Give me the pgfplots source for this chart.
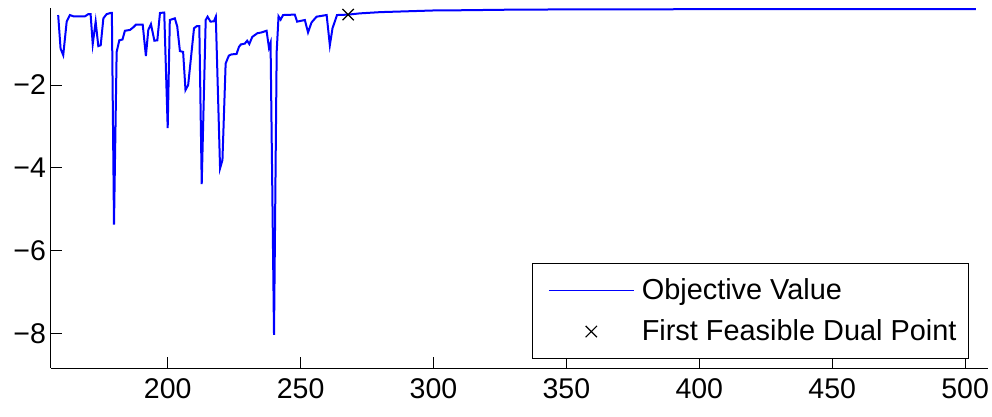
\documentclass[border=0pt]{standalone}
\usepackage{fontspec}
\setmainfont{Liberation Sans}
\usepackage{pgfplots}
\pgfplotsset{compat=1.18}
\begin{document}
\begin{tikzpicture}
\path[use as bounding box] (-25.5bp,-24.5bp) rectangle (470.5bp,184bp);
\begin{axis}[
  at={(0,0)}, anchor=south west,
  scale only axis, width=468.5bp, height=180bp,
  xmin=156.1, xmax=508.6, ymin=-8.83, ymax=-0.14,
  axis lines=left, axis line style={-, line width=0.5bp, black},
  tick align=inside, major tick length=5.5bp,
  tick style={line width=0.5bp, black},
  xtick={200,250,300,350,400,450,500},
  ytick={-8,-6,-4,-2},
  yticklabels={−8,−6,−4,−2},
  /pgf/number format/assume math mode=true,
  /pgf/number format/1000 sep={},
  ticklabel style={font=\fontsize{14.3}{17}\selectfont},
  xticklabel style={yshift=-2bp},
  yticklabel style={xshift=1bp},
  legend style={at={(1,0)}, anchor=south east, xshift=-9.5bp, yshift=4.5bp,
    draw=black, line width=0.5bp, font=\fontsize{14.5}{17}\selectfont,
    inner xsep=4bp, inner ysep=5.5bp, row sep=4.5bp,
    cells={anchor=west}},
  legend cell align=left,
  clip=true,
]
\addplot[blue, line width=1bp, mark=none,
  legend image code/.code={\path (0bp,0bp) (47.5bp,0bp); \draw[blue, line width=0.6bp] (3.5bp,0bp) -- (46bp,0bp);}]
coordinates {
(158.8,-0.31) (159.7,-1.12) (160.7,-1.28) (162.0,-0.47) (163.2,-0.31) (164.5,-0.34)
(168.9,-0.34) (170.1,-0.29) (171.0,-0.29) (171.8,-1.01) (172.9,-0.47) (173.9,-1.06)
(174.8,-1.04) (175.8,-0.39) (177.0,-0.29) (178.5,-0.26) (179.0,-0.26) (179.8,-5.37)
(180.8,-1.20) (181.8,-0.92) (183.0,-0.90) (183.9,-0.69) (185.8,-0.67) (187.0,-0.61)
(188.1,-0.54) (190.6,-0.54) (191.8,-1.30) (192.7,-0.67) (193.7,-0.53) (195.0,-0.93)
(196.1,-0.92) (197.1,-0.26) (198.7,-0.25) (200.0,-3.04) (200.8,-0.43) (202.7,-0.39)
(203.6,-0.59) (204.6,-1.18) (205.8,-1.20) (206.7,-2.12) (207.7,-2.00) (209.9,-0.63)
(210.9,-0.58) (211.9,-0.58) (212.8,-4.39) (214.3,-0.43) (215.0,-0.35) (216.1,-0.47)
(217.4,-0.46) (218.1,-0.35) (219.7,-4.01) (220.6,-3.81) (221.8,-1.48) (223.0,-1.29)
(224.0,-1.26) (225.9,-1.25) (226.8,-1.08) (227.5,-1.02) (229.0,-1.00) (229.9,-0.93)
(230.7,-1.01) (231.8,-0.84) (233.7,-0.75) (235.3,-0.73) (237.2,-0.69) (238.1,-1.10)
(238.7,-0.98) (240.0,-8.03) (241.0,-1.20) (241.7,-0.34) (242.5,-0.42) (243.4,-0.31)
(247.8,-0.30) (248.7,-0.47) (251.6,-0.43) (252.8,-0.73) (254.1,-0.49) (256.0,-0.35)
(259.8,-0.31) (261.0,-1.04) (262.0,-0.63) (263.7,-0.31) (267.9,-0.30) (272.3,-0.27)
(280.0,-0.24) (290.0,-0.22) (300.0,-0.20) (310.0,-0.195) (330.0,-0.18) (360.0,-0.172)
(400.0,-0.17) (450.0,-0.168) (504.0,-0.165)
};
\addlegendentry{Objective Value}
\addplot[only marks, mark=x, mark size=4bp, black, mark options={line width=0.6bp},
  legend image code/.code={\path (0bp,0bp) (47.5bp,0bp); \draw[black, line width=0.6bp] plot[mark=x, mark size=4bp] coordinates {(24.75bp,0bp)};}]
coordinates {(267.9,-0.30)};
\addlegendentry{First Feasible Dual Point}
\end{axis}
\end{tikzpicture}
\end{document}
